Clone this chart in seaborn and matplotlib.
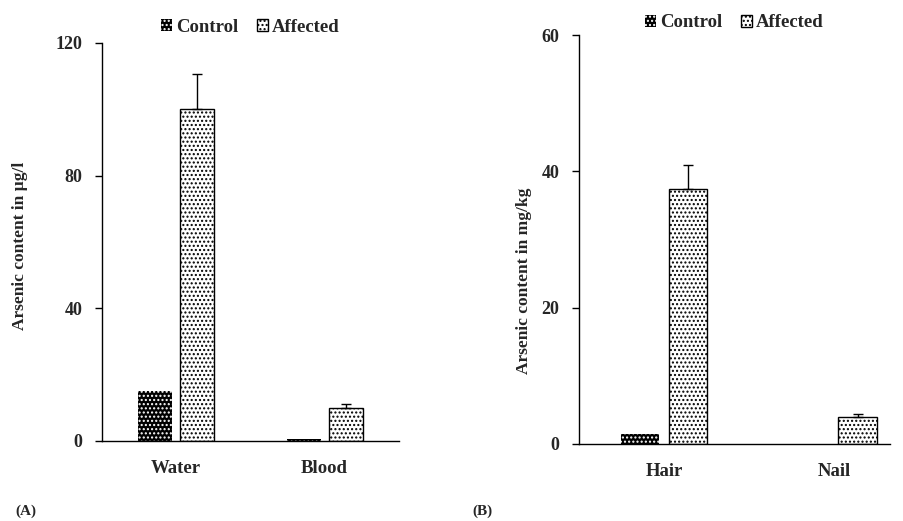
import matplotlib
matplotlib.use("Agg")
import matplotlib.pyplot as plt
import pandas as pd
import seaborn as sns
from matplotlib.patches import Patch

# data
groups = ["Control", "Affected"]

fluid_sites = ["Water", "Blood"]
fluid_control = [15.1, 0.7]
fluid_affected = [100.2, 10.0]
fluid_control_err = [0.0, 0.0]
fluid_affected_err = [10.3, 1.2]

tissue_sites = ["Hair", "Nail"]
tissue_control = [1.5, 0.0]
tissue_affected = [37.4, 4.0]
tissue_control_err = [0.0, 0.0]
tissue_affected_err = [3.6, 0.4]

sns.set_theme(style="white")
plt.rcParams["font.family"] = ["Liberation Serif", "DejaVu Serif"]
plt.rcParams["font.weight"] = "bold"
plt.rcParams["hatch.linewidth"] = 1.0


def make_df(sites, ctrl, aff, ctrl_err, aff_err):
    rows = []
    for s, v, e in zip(sites, ctrl, ctrl_err):
        rows.append({"site": s, "group": "Control", "value": v, "err": e})
    for s, v, e in zip(sites, aff, aff_err):
        rows.append({"site": s, "group": "Affected", "value": v, "err": e})
    return pd.DataFrame(rows)


def style_bar(p, control):
    if control:
        p.set_facecolor("black")
        p.set_edgecolor("white")
        p.set_hatch("....")
        p.set_linewidth(0)
    else:
        p.set_facecolor("white")
        p.set_edgecolor("black")
        p.set_hatch("....")
        p.set_linewidth(1.0)


def draw_panel(ax, df, ylabel, ymax, yticks, label_xy, legend_y, xmax):
    sns.barplot(data=df, x="site", y="value", hue="group", hue_order=groups,
                errorbar=None, width=0.564, gap=0.19, ax=ax, legend=False)
    n = len(df) // 2
    for i, p in enumerate(ax.patches[: 2 * n]):
        style_bar(p, i < n)
        row = df.iloc[i]
        if row["err"] > 0:
            ax.errorbar(p.get_x() + p.get_width() / 2, p.get_height(),
                        yerr=[[0], [row["err"]]], fmt="none", ecolor="black",
                        elinewidth=1.0, capsize=3.5, capthick=1.0, zorder=1)
    ax.set_xlim(-0.5, xmax)
    ax.set_ylim(0, ymax)
    ax.set_yticks(yticks)
    ax.set_xlabel("")
    ax.set_ylabel(ylabel, fontsize=12.5, fontweight="bold")
    ax.yaxis.set_label_coords(*label_xy)
    ax.tick_params(axis="y", left=True, length=5, width=1, color="black",
                   labelsize=13, pad=9)
    ax.tick_params(axis="x", bottom=False, labelsize=13.5, pad=8)
    for lab in ax.get_xticklabels() + ax.get_yticklabels():
        lab.set_fontweight("bold")
    sns.despine(ax=ax)
    for sp in ["left", "bottom"]:
        ax.spines[sp].set_color("black")
        ax.spines[sp].set_linewidth(1.0)
    handles = [
        Patch(facecolor="black", edgecolor="white", hatch="....", linewidth=0),
        Patch(facecolor="white", edgecolor="black", hatch="....", linewidth=1.0),
    ]
    ax.legend(handles, groups, loc="center", bbox_to_anchor=(0.5, legend_y),
              ncol=2, frameon=False, handlelength=0.6, handleheight=0.6,
              handletextpad=0.2, columnspacing=1.0,
              prop={"size": 13.5, "weight": "bold"})


fig = plt.figure(figsize=(9.04, 5.21), dpi=100)
ax1 = fig.add_axes([0.1128, 0.1536, 0.3285, 0.764])
ax2 = fig.add_axes([0.6405, 0.1478, 0.344, 0.785])

draw_panel(ax1, make_df(fluid_sites, fluid_control, fluid_affected,
                        fluid_control_err, fluid_affected_err),
           "Arsenic content in µg/l", 120, [0, 40, 80, 120],
           (-0.25, 0.49), 1.04, 1.5)
draw_panel(ax2, make_df(tissue_sites, tissue_control, tissue_affected,
                        tissue_control_err, tissue_affected_err),
           "Arsenic content in mg/kg", 60, [0, 20, 40, 60],
           (-0.15, 0.40), 1.03, 1.33)

fig.text(0.017, 0.006, "(A)", fontsize=11, fontweight="bold", va="bottom")
fig.text(0.523, 0.006, "(B)", fontsize=11, fontweight="bold", va="bottom")

fig.savefig("out.png", dpi=100)
